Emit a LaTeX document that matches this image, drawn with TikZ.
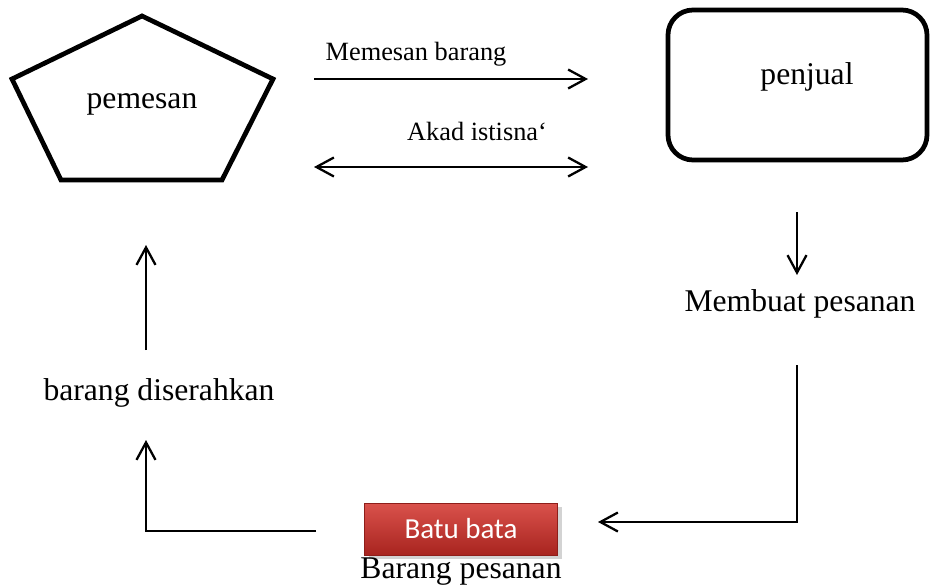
\documentclass[tikz,border=0pt]{standalone}
\usepackage{fontspec}
\setmainfont{Liberation Serif}
\newfontfamily\calibrifont{Carlito}
\usetikzlibrary{arrows.meta,shadows}

\definecolor{brickTop}{HTML}{DA524C}
\definecolor{brickBottom}{HTML}{A8241F}
\definecolor{brickEdge}{HTML}{8E1E1A}

\begin{document}
\begin{tikzpicture}[
    x=0.02cm, y=-0.02cm,
    line width=1.3pt,
    bigtext/.style={inner sep=0pt,font=\fontsize{18}{20}\selectfont},
    arrowtext/.style={inner sep=0pt,font=\fontsize{15}{17}\selectfont},
    outline/.style={line width=2.7pt,line join=miter},
    flow/.style={-{Straight Barb[length=3.5mm,width=3.8mm]}},
    twoway/.style={{Straight Barb[length=3.5mm,width=3.8mm]}-{Straight Barb[length=3.5mm,width=3.8mm]}},
    goods/.style={inner sep=0pt,font=\calibrifont\fontsize{16.5}{18}\selectfont,
        text=white,minimum width=3.86cm,minimum height=1.04cm,
        top color=brickTop,bottom color=brickBottom,draw=brickEdge,
        line width=0.4pt,drop shadow={opacity=0.35}}
]
\useasboundingbox (0,0) rectangle (930,588);

% Actors
\draw[outline] (142,16) -- (273,79) -- (222,180) -- (61,180) -- (12,79) -- cycle;
\node[bigtext] (pemesan) at (142,104) {pemesan};

\draw[outline,rounded corners=0.5cm] (668,10) rectangle (927,160);
\node[bigtext] (penjual) at (807,77) {penjual};

% Top arrows
\coordinate (orderL) at (314,79);
\coordinate (orderR) at (588,79);
\node[arrowtext] (order) at (416,54) {Memesan barang};
\draw[flow] (orderL) -- (orderR);

\coordinate (akadL) at (314,167);
\coordinate (akadR) at (588,167);
\node[arrowtext] (akad) at (477,131) {Akad istisna‘};
\draw[twoway] (akadL) -- (akadR);

% Right branch
\node[bigtext] (make) at (800,304) {Membuat pesanan};
\coordinate (makeA) at (797,212);
\coordinate (makeB) at (797,275);
\draw[flow] (makeA) -- (makeB);

\coordinate (downA) at (797,365);
\coordinate (downB) at (797,522);
\coordinate (downC) at (598,522);
\draw[flow] (downA) -- (downB) -- (downC);

% Goods
\node[goods] (brick) at (461,529) {Batu bata};
\node[bigtext] (goodsname) at (461,572) {Barang pesanan};

% Left branch
\coordinate (backA) at (316,531);
\coordinate (backB) at (146,531);
\coordinate (backC) at (146,440);
\draw[flow] (backA) -- (backB) -- (backC);

\node[bigtext] (handover) at (159,393) {barang diserahkan};
\coordinate (upA) at (146,350);
\coordinate (upB) at (146,245);
\draw[flow] (upA) -- (upB);

\end{tikzpicture}
\end{document}
